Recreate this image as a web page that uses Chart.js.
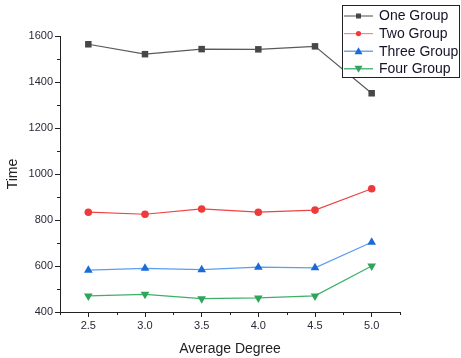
<!DOCTYPE html>
<html>
<head>
<meta charset="utf-8">
<script src="https://cdn.jsdelivr.net/npm/chart.js@4/dist/chart.umd.min.js"></script>
<style>
  html, body { margin: 0; padding: 0; background: #fff; }
  #chart { display: block; }
</style>
</head>
<body>
<canvas id="chart" width="461" height="358"></canvas>
<script>
const degrees = [2.5, 3.0, 3.5, 4.0, 4.5, 5.0];
const oneGroup = [1564, 1521, 1543, 1542, 1555, 1351];
const twoGroup = [834, 825, 848, 834, 843, 936];
const threeGroup = [582, 590, 584, 595, 592, 703];
const fourGroup = [470, 477, 458, 461, 470, 600];

const seriesNames = ["One Group", "Two Group", "Three Group", "Four Group"];
const xMajorTicks = [2.5, 3.0, 3.5, 4.0, 4.5, 5.0];
const yMajorTicks = [400, 600, 800, 1000, 1200, 1400, 1600];

const toPoints = (vals) => vals.map((v, i) => ({ x: degrees[i], y: v }));

const styles = [
  { marker: "#474747", line: "#5a5a5a", legendLine: "#6a6a6a", pointStyle: "rect", radius: 4.6, rot: 0 },
  { marker: "#ee3a3a", line: "#ee4444", legendLine: "#f58a8a", pointStyle: "circle", radius: 3.8, rot: 0 },
  { marker: "#1a6ad8", line: "#5b9df0", legendLine: "#4d8ee8", pointStyle: "triangle", radius: 5, rot: 0 },
  { marker: "#2ea55a", line: "#3cb068", legendLine: "#2ea55a", pointStyle: "triangle", radius: 5, rot: 180 },
];

const allSeries = [oneGroup, twoGroup, threeGroup, fourGroup];

const datasets = allSeries.map((vals, i) => ({
  label: seriesNames[i],
  data: toPoints(vals),
  showLine: true,
  borderColor: styles[i].line,
  borderWidth: 1.2,
  backgroundColor: styles[i].marker,
  pointBackgroundColor: styles[i].marker,
  pointBorderColor: styles[i].marker,
  pointBorderWidth: 0,
  pointStyle: styles[i].pointStyle,
  pointRadius: styles[i].radius,
  pointRotation: styles[i].rot,
  tension: 0,
}));

// minor ticks + legend box, drawn through the chart scales
const axisDecor = {
  id: "axisDecor",
  afterDraw(chart) {
    const ctx = chart.ctx;
    const xs = chart.scales.x;
    const ys = chart.scales.y;
    const area = chart.chartArea;
    ctx.save();
    ctx.strokeStyle = "#222";
    ctx.lineWidth = 1;
    // minor x ticks
    for (let v = 2.25; v <= 5.25; v += 0.5) {
      const px = Math.round(xs.getPixelForValue(v)) + 0.5;
      ctx.beginPath();
      ctx.moveTo(px, area.bottom);
      ctx.lineTo(px, area.bottom + 3);
      ctx.stroke();
    }
    // minor y ticks
    for (let v = 500; v < 1600; v += 200) {
      const py = Math.round(ys.getPixelForValue(v)) + 0.5;
      ctx.beginPath();
      ctx.moveTo(area.left, py);
      ctx.lineTo(area.left - 3, py);
      ctx.stroke();
    }

    // legend
    const lx = 342, ly = 5, lw = 118, lh = 73;
    ctx.fillStyle = "#fff";
    ctx.fillRect(lx, ly, lw, lh);
    ctx.strokeStyle = "#222";
    ctx.strokeRect(lx + 0.5, ly + 0.5, lw - 1, lh - 1);
    ctx.font = "14px 'Liberation Sans', Arial, sans-serif";
    ctx.textBaseline = "middle";
    seriesNames.forEach((name, i) => {
      const cy = 16 + i * 17.6;
      ctx.strokeStyle = styles[i].legendLine;
      ctx.lineWidth = 1.2;
      ctx.beginPath();
      ctx.moveTo(344, cy);
      ctx.lineTo(373, cy);
      ctx.stroke();
      ctx.fillStyle = styles[i].marker;
      const mx = 358.5;
      ctx.beginPath();
      if (i === 0) {
        ctx.rect(mx - 2.5, cy - 2.5, 5, 5);
      } else if (i === 1) {
        ctx.arc(mx, cy, 2.6, 0, Math.PI * 2);
      } else if (i === 2) {
        ctx.moveTo(mx, cy - 4);
        ctx.lineTo(mx + 4, cy + 3);
        ctx.lineTo(mx - 4, cy + 3);
      } else {
        ctx.moveTo(mx, cy + 4);
        ctx.lineTo(mx + 4, cy - 3);
        ctx.lineTo(mx - 4, cy - 3);
      }
      ctx.closePath();
      ctx.fill();
      ctx.fillStyle = "#141428";
      ctx.fillText(name, 379, cy + 0.5);
    });
    ctx.restore();
  },
};

const tickFont = { family: "'Liberation Sans', Arial, sans-serif", size: 11 };
const titleFont = { family: "'Liberation Sans', Arial, sans-serif", size: 14 };

new Chart(document.getElementById("chart"), {
  type: "scatter",
  data: { datasets },
  options: {
    responsive: false,
    animation: false,
    clip: false,
    layout: { padding: { top: 36, right: 61, left: 0, bottom: 0 } },
    plugins: {
      legend: { display: false },
      tooltip: { enabled: false },
    },
    scales: {
      x: {
        type: "linear",
        min: 2.25,
        max: 5.25,
        afterBuildTicks: (scale) => {
          scale.ticks = xMajorTicks.map((v) => ({ value: v }));
        },
        afterFit: (scale) => { scale.height = 46; },
        ticks: {
          color: "#2a2a3a",
          font: tickFont,
          padding: 2,
          maxRotation: 0,
          callback: (v) => Number(v).toFixed(1),
        },
        grid: { drawOnChartArea: false, tickLength: 5, color: "#222" },
        border: { color: "#222", width: 1 },
        title: {
          display: true,
          text: "Average Degree",
          color: "#222",
          font: titleFont,
          padding: { top: 2, bottom: 0 },
        },
      },
      y: {
        min: 400,
        max: 1600,
        afterBuildTicks: (scale) => {
          scale.ticks = yMajorTicks.map((v) => ({ value: v }));
        },
        afterFit: (scale) => { scale.width = 60; },
        ticks: {
          color: "#2a2a3a",
          font: tickFont,
          padding: 2,
          callback: (v) => String(v),
        },
        grid: { drawOnChartArea: false, tickLength: 5, color: "#222" },
        border: { color: "#222", width: 1 },
        title: {
          display: true,
          text: "Time",
          color: "#222",
          font: titleFont,
          padding: { top: 5, bottom: 0 },
        },
      },
    },
  },
  plugins: [axisDecor],
});
</script>
</body>
</html>
